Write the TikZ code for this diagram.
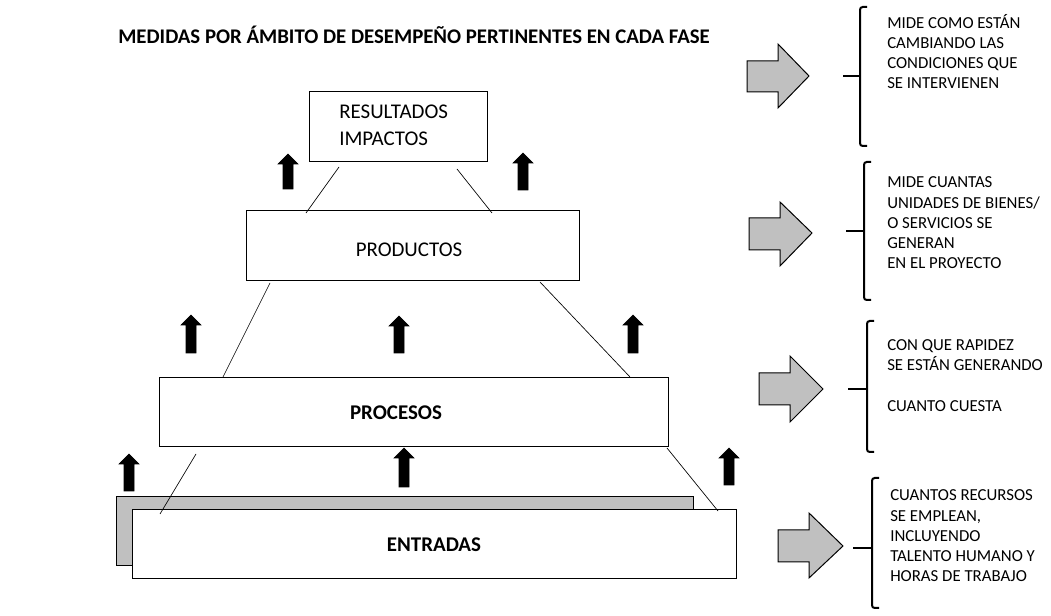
\documentclass[tikz,border=0pt]{standalone}
\usepackage{fontspec}
\setmainfont{Carlito}
\usepackage{xcolor}
\usepackage{tikz}

\begin{document}
\begin{tikzpicture}[x=0.75pt,y=0.75pt,yscale=-1,xscale=1,
  boxtext/.style={font=\fontsize{15.7}{20.25}\selectfont, inner sep=0pt},
  sidetext/.style={font=\fontsize{12.6}{15.2}\selectfont, inner sep=0pt, anchor=base west, align=left},
  uparrow/.style={fill=black, draw=black, line width=0.4},
  blockarrow/.style={fill={rgb, 255:red, 192; green, 192; blue, 192}, draw=black, line width=0.75},
  pyrline/.style={line width=0.5},
  bracketline/.style={line width=1.5, rounded corners=2}]
\useasboundingbox (0,0) rectangle (1051,616);

%Shape: Rectangle [id:resultados]
\draw [line width=0.75] (309,92) -- (487,92) -- (487,162) -- (309,162) -- cycle ;
%Shape: Rectangle [id:productos]
\draw [line width=0.75] (246,211) -- (579,211) -- (579,281) -- (246,281) -- cycle ;
%Shape: Rectangle [id:procesos]
\draw [line width=0.75] (159,378) -- (668,378) -- (668,447) -- (159,447) -- cycle ;
%Shape: Rectangle [id:sombra]
\draw [line width=0.75, fill={rgb, 255:red, 192; green, 192; blue, 192}] (116,497) -- (693,497) -- (693,566) -- (116,566) -- cycle ;
%Shape: Rectangle [id:entradas]
\draw [line width=0.75, fill=white] (132,510) -- (736,510) -- (736,579) -- (132,579) -- cycle ;

%Pyramid sides
\coordinate (res-l) at (339,167) ;
\coordinate (res-r) at (457,169) ;
\coordinate (prod-tl) at (306,213) ;
\coordinate (prod-tr) at (492,213) ;
\coordinate (prod-bl) at (270,283) ;
\coordinate (prod-br) at (540,282) ;
\coordinate (proc-tl) at (223,377) ;
\coordinate (proc-tr) at (630,377) ;
\coordinate (proc-bl) at (196,454) ;
\coordinate (proc-br) at (667,448) ;
\coordinate (ent-l) at (160,514) ;
\coordinate (ent-r) at (718,511) ;
%Straight Lines
\draw [pyrline] (res-l) -- (prod-tl) ;
\draw [pyrline] (res-r) -- (prod-tr) ;
%Straight Lines
\draw [pyrline] (prod-bl) -- (proc-tl) ;
\draw [pyrline] (prod-br) -- (proc-tr) ;
%Straight Lines
\draw [pyrline] (proc-bl) -- (ent-l) ;
\draw [pyrline] (proc-br) -- (ent-r) ;

%Up Arrow
\draw [uparrow] (288,154) -- (298,164) -- (293,164) -- (293,189) -- (283,189) -- (283,164) -- (278,164) -- cycle ;
%Up Arrow
\draw [uparrow] (523,153) -- (533,163) -- (528,163) -- (528,190) -- (518,190) -- (518,163) -- (513,163) -- cycle ;
%Up Arrow
\draw [uparrow] (191,315) -- (201,325) -- (196,325) -- (196,353) -- (186,353) -- (186,325) -- (181,325) -- cycle ;
%Up Arrow
\draw [uparrow] (399,316) -- (409,326) -- (404,326) -- (404,353) -- (394,353) -- (394,326) -- (389,326) -- cycle ;
%Up Arrow
\draw [uparrow] (633,315) -- (643,325) -- (638,325) -- (638,353) -- (628,353) -- (628,325) -- (623,325) -- cycle ;
%Up Arrow
\draw [uparrow] (129,454) -- (139,464) -- (134,464) -- (134,491) -- (124,491) -- (124,464) -- (119,464) -- cycle ;
%Up Arrow
\draw [uparrow] (404,448) -- (414,458) -- (409,458) -- (409,487) -- (399,487) -- (399,458) -- (394,458) -- cycle ;
%Up Arrow
\draw [uparrow] (729,448) -- (739,458) -- (734,458) -- (734,485) -- (724,485) -- (724,458) -- (719,458) -- cycle ;

%Right Arrow
\draw [blockarrow] (747,61) -- (778,61) -- (778,44) -- (809,76) -- (778,108) -- (778,92) -- (747,92) -- cycle ;
%Right Arrow
\draw [blockarrow] (749,218) -- (780,218) -- (780,202) -- (812,233) -- (780,266) -- (780,250) -- (749,250) -- cycle ;
%Right Arrow
\draw [blockarrow] (759,373) -- (790,373) -- (790,356) -- (823,389) -- (790,422) -- (790,405) -- (759,405) -- cycle ;
%Right Arrow
\draw [blockarrow] (778,530) -- (809,530) -- (809,513) -- (843,546) -- (809,578) -- (809,562) -- (778,562) -- cycle ;

%Left Brackets
\draw [bracketline] (867,7) -- (860,7) -- (860,146) -- (867,146) ;
\draw [line width=1.5] (843,76) -- (860,76) ;
\draw [bracketline] (871,162) -- (864,162) -- (864,300) -- (871,300) ;
\draw [line width=1.5] (846,231) -- (864,231) ;
\draw [bracketline] (874,321) -- (867,321) -- (867,452) -- (874,452) ;
\draw [line width=1.5] (848,389) -- (867,389) ;
\draw [bracketline] (879,478) -- (872,478) -- (872,608) -- (879,608) ;
\draw [line width=1.5] (853,548) -- (872,548) ;

% Text Node
\node [anchor=base west, inner sep=0pt, font=\fontsize{15.6}{18}\selectfont\bfseries] (titulo) at (118,44) {MEDIDAS POR ÁMBITO DE DESEMPEÑO PERTINENTES EN CADA FASE};
% Text Node
\node [boxtext, anchor=base west, align=left] (resultados) at (339,146) {RESULTADOS\\IMPACTOS};
% Text Node
\node [boxtext, anchor=base] (productos) at (409,257) {PRODUCTOS};
% Text Node
\node [boxtext, anchor=base] (procesos) at (396,420) {\bfseries PROCESOS};
% Text Node
\node [boxtext, anchor=base] (entradas) at (434,552) {\bfseries ENTRADAS};
% Text Node
\node [sidetext] (mide1) at (887,89) {MIDE COMO ESTÁN\\CAMBIANDO LAS\\CONDICIONES QUE\\SE INTERVIENEN};
% Text Node
\node [sidetext] (mide2) at (887,269) {MIDE CUANTAS\\UNIDADES DE BIENES/\\O SERVICIOS SE\\GENERAN\\EN EL PROYECTO};
% Text Node
\node [sidetext] (rapidez) at (887,412) {CON QUE RAPIDEZ\\SE ESTÁN GENERANDO\\[16pt]CUANTO CUESTA};
% Text Node
\node [sidetext] (recursos) at (890,582) {CUANTOS RECURSOS\\SE EMPLEAN,\\INCLUYENDO\\TALENTO HUMANO Y\\HORAS DE TRABAJO};

\end{tikzpicture}
\end{document}
